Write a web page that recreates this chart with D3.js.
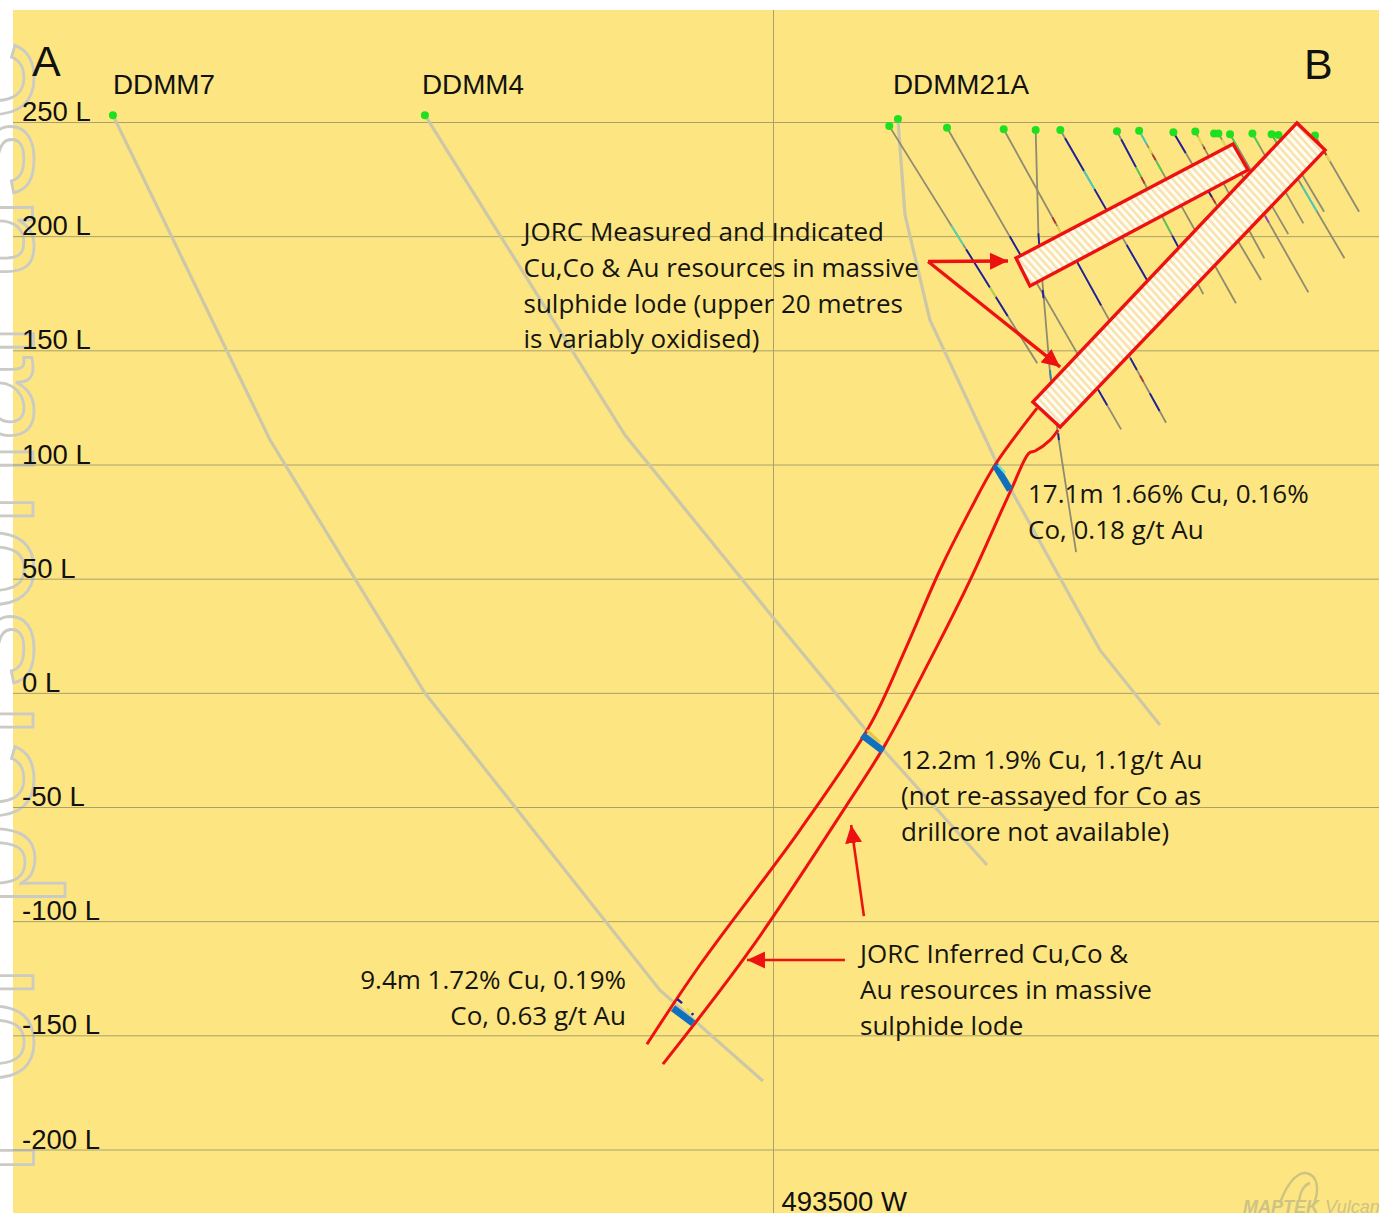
<!DOCTYPE html>
<html>
<script src='https://d3js.org/d3.v7.min.js'></script>
<style>
 html, body {margin:0; padding:0; background:white;}
 svg {display:block;}
 .note {font-family:'Open Sans', sans-serif; font-size:26px; fill:#151510;}
 .level text, .easting text {font-family:'Liberation Sans', sans-serif; font-size:27.5px; fill:#111;}
 .level line, .easting line {stroke:#A9A06C; stroke-width:1;}
 .level path, .easting path {display:none;}
</style>
<body>
<svg width=1383 height=1214></svg>
<script>

// section levels (RL, metres), easting is metres from 493500 W
const levels = [250,200,150,100,50,0,-50,-100,-150,-200];
const levelLabels = ['250 L','200 L','150 L','100 L','50 L','0 L','-50 L','-100 L','-150 L','-200 L'];
const eastingTicks = [0];
const eastingLabels = ['493500 W'];

// long holes, [easting, RL]
const ddmm7 = [[-289,253],[-220.2,110.7],[-152.4,-0.1],[-49.5,-130.2],[-4.4,-170]];
const ddmm4 = [[-152.4,253],[-64.8,112.9],[0.9,31.9],[42.5,-18.5],[93.7,-75.4]];
const ddmm21a = [[54.7,251.3],[57.8,209.3],[68.7,163.3],[99.4,97.6],[143.2,18.7],[169.4,-14.1]];

// short holes near surface
const shortHoles = [
 [[50.9,248.2],[115.7,144.3]],
 [[76.2,247.5],[152.4,115.4]],
 [[101.0,246.8],[172.1,118.3]],
 [[115.0,246.5],[116.2,201.2],[118.4,174.9],[121.3,139.9],[124.9,112.2],[132.7,61.6]],
 [[125.8,246.5],[167.3,174.6]],
 [[150.6,245.9],[188.4,174.6]],
 [[160.3,246.2],[202.7,170.6]],
 [[175.3,245.5],[213.7,180.8]],
 [[184.9,245.8],[215.1,190.3]],
 [[195.0,245.0],[234.4,175.4]],
 [[200.1,244.6],[225.6,200.9]],
 [[209.9,245.0],[232.2,205.6]],
 [[218.3,244.6],[250.2,190.3]],
 [[221.3,244.3],[241.3,210.7]],
 [[237.3,244.1],[256.6,210.7]]
];

// assays: hole index, from, to (fraction down the hole), colour
const assays = [
 [0,0.42,0.50,'#4fd8b0'],[0,0.52,0.68,'#20209a'],[0,0.68,0.72,'#b5d83a'],[0,0.72,0.80,'#20209a'],
 [1,0.36,0.45,'#20209a'],[1,0.80,0.86,'#50d050'],[1,0.86,0.92,'#20209a'],
 [2,0.30,0.32,'#c03030'],[2,0.33,0.36,'#e8e040'],[2,0.45,0.60,'#20209a'],[2,0.78,0.82,'#20209a'],[2,0.84,0.86,'#c03030'],[2,0.90,0.96,'#20209a'],
 [4,0.05,0.25,'#20209a'],[4,0.25,0.36,'#40d0c0'],[4,0.36,0.50,'#20209a'],[4,0.70,0.92,'#20209a'],
 [5,0.05,0.22,'#20209a'],[5,0.22,0.28,'#50d050'],[5,0.28,0.32,'#c03030'],[5,0.33,0.38,'#50d050'],[5,0.55,0.62,'#50d050'],[5,0.64,0.72,'#20209a'],
 [6,0.02,0.08,'#40d0c0'],[6,0.10,0.13,'#e8e040'],[6,0.14,0.17,'#c03030'],[6,0.18,0.24,'#50d050'],
 [7,0.02,0.14,'#20209a'],[7,0.36,0.44,'#20209a'],[7,0.44,0.48,'#c03030'],
 [8,0.04,0.10,'#e8e040'],[8,0.12,0.14,'#c03030'],
 [9,0.04,0.10,'#e8e040'],[9,0.30,0.38,'#50d050'],[9,0.42,0.50,'#40d0c0'],[9,0.52,0.56,'#a040c0'],
 [10,0.04,0.14,'#50d050'],[10,0.46,0.60,'#20209a'],
 [11,0.02,0.14,'#50d050'],
 [12,0.04,0.10,'#50d050'],[12,0.42,0.62,'#40d0c0'],
 [14,0.12,0.20,'#e8e040'],[14,0.22,0.26,'#c03030'],[14,0.26,0.34,'#e8e040']
];
// intervals on the one bent hole
const bentAssays = [
 [[116.2,201.2],[116.5,196.5],'#20209a'],
 [[118.1,176.4],[118.4,172.8],'#20209a'],
 [[121.3,141.4],[121.7,137],'#2a8a9a'],
 [[124.9,113.6],[125.2,110.7],'#20209a']
];

// collar with no trace showing
const extraCollars = [[193.1,245.0]];

// lode outline and JORC blocks
const lodeUpper = [[115.6,124.7],[97.2,99.8],[86.3,80.0],[73.1,53.8],[57.8,18.7],[42.5,-14.1],[11.8,-60.1],[-32.0,-119.2],[-55.2,-153.9]];
const lodeLower = [[124.8,115.1],[121.3,110.7],[114.7,105.9],[112.1,105.0],[104.6,89.7],[86.3,49.4],[68.7,14.3],[49.0,-22.9],[33.7,-47],[-10.1,-112.7],[-48.2,-162.6]];
const mainBlock = [[113.8,127.4],[125.7,116.4],[241.7,237.7],[229.4,249.6]];
const upperBlock = [[106.4,190.4],[112.5,178.2],[208.0,229.0],[201.4,240.4]];

// intercepts
const intercepts = [
 [[97.2,99.8],[103.8,88.8]],
 [[39.0,-18.5],[48.2,-25.5]],
 [[-43.8,-138.1],[-35,-144.7]]
];
const interceptAssays = [
 [[98.5,99.8],[101.6,96.3],'#7fe0c0'],
 [[41.2,-16.3],[46.8,-21.6],'#e8c830'],
 [[-42,-134.1],[-39.8,-135.9],'#20209a'],
 [[-37.7,-138.1],[-36.3,-139.9],'#e8e040'],
 [[-35.5,-140.3],[-35,-141.1],'#20209a']
];

// arrows from - to
const arrowsHeavy = [
 [[67.9,188.9],[102.9,189.1]],
 [[67.9,188.9],[125.7,142.7]]
];
const arrowsLight = [
 [[39.8,-97.8],[34.2,-57.9]],
 [[31.5,-117],[-11.4,-117]]
];

const note1 = ['JORC Measured and Indicated','Cu,Co & Au resources in massive','sulphide lode (upper 20 metres','is variably oxidised)'];
const note2 = ['17.1m 1.66% Cu, 0.16%','Co, 0.18 g/t Au'];
const note3 = ['12.2m 1.9% Cu, 1.1g/t Au','(not re-assayed for Co as','drillcore not available)'];
const note4 = ['JORC Inferred Cu,Co &','Au resources in massive','sulphide lode'];
const note5 = ['9.4m 1.72% Cu, 0.19%','Co, 0.63 g/t Au'];

const x = d3.scaleLinear().domain([0,100]).range([773,1001.4]);
const y = d3.scaleLinear().domain([250,-200]).range([122,1149.5]);
const svg = d3.select('svg');
const line = d3.line().x(d => x(d[0])).y(d => y(d[1]));
const smooth = d3.line().x(d => x(d[0])).y(d => y(d[1])).curve(d3.curveCatmullRom.alpha(0.5));

const defs = svg.append('defs');
const hatch = defs.append('pattern').attr('id','hatch').attr('patternUnits','userSpaceOnUse')
  .attr('width',5.6).attr('height',5.6).attr('patternTransform','rotate(-42)');
hatch.append('rect').attr('width',5.6).attr('height',5.6).attr('fill','#FFFDF4');
hatch.append('rect').attr('width',2.4).attr('height',5.6).attr('fill','#F9DFA8');
defs.append('marker').attr('id','head').attr('markerUnits','userSpaceOnUse')
  .attr('viewBox','0 0 18 18').attr('refX',18).attr('refY',9)
  .attr('markerWidth',18).attr('markerHeight',18).attr('orient','auto')
  .append('path').attr('d','M0,0.5L18,9L0,17.5Z').attr('fill','#EE1111');

// panel
svg.append('rect').attr('x',13).attr('y',10).attr('width',1366).attr('height',1203).attr('fill','#FDE681');

// watermark, cut off by the page edge
svg.append('text').text('For personal use')
  .attr('transform','translate(33,1177) rotate(-90)')
  .style('font-family',"'Liberation Sans', sans-serif").style('font-size','152px')
  .attr('fill','none').attr('stroke','#CBCBC6').attr('stroke-width',2.8);

// grid and level labels
svg.append('g').attr('class','level').attr('transform','translate(13,0)')
  .call(d3.axisRight(y).tickValues(levels).tickSize(1366).tickFormat((d,i) => levelLabels[i]))
  .selectAll('text').attr('x',9).attr('dy',-1.5).attr('dominant-baseline','auto').attr('text-anchor','start');

svg.append('g').attr('class','easting').attr('transform','translate(0,10)')
  .call(d3.axisBottom(x).tickValues(eastingTicks).tickSize(1203).tickFormat((d,i) => eastingLabels[i]))
  .selectAll('text').attr('x',8).attr('y',1201).attr('dy',0).attr('text-anchor','start');

// long holes
svg.selectAll('.long').data([ddmm7,ddmm4,ddmm21a]).enter().append('path').attr('class','long')
  .attr('d',line).attr('fill','none').attr('stroke','#CCC7A6').attr('stroke-width',3.2);

// short holes and assay colours
svg.selectAll('.short').data(shortHoles).enter().append('path').attr('class','short')
  .attr('d',line).attr('fill','none').attr('stroke','#8E8B72').attr('stroke-width',1.8);
svg.selectAll('.assay').data(assays).enter().append('line').attr('class','assay')
  .attr('x1',d => x(d3.interpolateNumber(shortHoles[d[0]][0][0],shortHoles[d[0]][1][0])(d[1])))
  .attr('y1',d => y(d3.interpolateNumber(shortHoles[d[0]][0][1],shortHoles[d[0]][1][1])(d[1])))
  .attr('x2',d => x(d3.interpolateNumber(shortHoles[d[0]][0][0],shortHoles[d[0]][1][0])(d[2])))
  .attr('y2',d => y(d3.interpolateNumber(shortHoles[d[0]][0][1],shortHoles[d[0]][1][1])(d[2])))
  .attr('stroke',d => d[3]).attr('stroke-width',1.8);
svg.selectAll('.bent').data(bentAssays).enter().append('line').attr('class','bent')
  .attr('x1',d => x(d[0][0])).attr('y1',d => y(d[0][1]))
  .attr('x2',d => x(d[1][0])).attr('y2',d => y(d[1][1]))
  .attr('stroke',d => d[2]).attr('stroke-width',1.8);

// collars
const collars = [ddmm7,ddmm4,ddmm21a].concat(shortHoles).map(h => h[0]).concat(extraCollars);
svg.selectAll('.collar').data(collars).enter().append('circle').attr('class','collar')
  .attr('cx',d => x(d[0])).attr('cy',d => y(d[1])).attr('r',4).attr('fill','#1FE01F');

// lode
svg.selectAll('.lode').data([lodeUpper,lodeLower]).enter().append('path').attr('class','lode')
  .attr('d',smooth).attr('fill','none').attr('stroke','#EE1111').attr('stroke-width',3);
svg.selectAll('.block').data([upperBlock,mainBlock]).enter().append('path').attr('class','block')
  .attr('d',d => line(d)+'Z').attr('fill','url(#hatch)').attr('stroke','#EE1111').attr('stroke-width',3.4);

// intercepts
svg.selectAll('.icept').data(intercepts).enter().append('line').attr('class','icept')
  .attr('x1',d => x(d[0][0])).attr('y1',d => y(d[0][1]))
  .attr('x2',d => x(d[1][0])).attr('y2',d => y(d[1][1]))
  .attr('stroke','#0F70BE').attr('stroke-width',7);
svg.selectAll('.iassay').data(interceptAssays).enter().append('line').attr('class','iassay')
  .attr('x1',d => x(d[0][0])).attr('y1',d => y(d[0][1]))
  .attr('x2',d => x(d[1][0])).attr('y2',d => y(d[1][1]))
  .attr('stroke',d => d[2]).attr('stroke-width',2.5);

// arrows
function arrows(data, w) {
 svg.selectAll(null).data(data).enter().append('line')
  .attr('x1',d => x(d[0][0])).attr('y1',d => y(d[0][1]))
  .attr('x2',d => x(d[1][0])).attr('y2',d => y(d[1][1]))
  .attr('stroke','#EE1111').attr('stroke-width',w).attr('marker-end','url(#head)');
}
arrows(arrowsHeavy,3.4);
arrows(arrowsLight,2.6);

// text
function note(lines, px, py, anchor) {
 svg.append('text').attr('class','note').attr('text-anchor',anchor || 'start')
  .selectAll('tspan').data(lines).enter().append('tspan')
  .attr('x',px).attr('y',(d,i) => py + i*35.8).text(d => d);
}
note(note1,523.5,241);
note(note2,1028,503);
note(note3,901,769);
note(note4,860,963);
note(note5,626,989,'end');

function tag(t, px, py, size) {
 svg.append('text').text(t).attr('x',px).attr('y',py)
  .style('font-family',"'Liberation Sans', sans-serif").style('font-size',size+'px').attr('fill','#111');
}
tag('A',32,76,43);
tag('B',1304,79,43);
tag('DDMM7',113,94,27.8);
tag('DDMM4',422,94,27.8);
tag('DDMM21A',893,94,27.8);

// vendor mark
const mark = svg.append('g').attr('fill','#CDC384');
mark.append('text').text('MAPTEK').attr('x',1243).attr('y',1213)
  .style('font-family',"'Liberation Sans', sans-serif").style('font-size','18px').style('font-weight','bold').style('font-style','italic');
mark.append('text').text('Vulcan').attr('x',1325).attr('y',1213)
  .style('font-family',"'Liberation Sans', sans-serif").style('font-size','18px').style('font-style','italic');
mark.append('path').attr('d','M1280,1203C1286,1186 1296,1172 1306,1173C1318,1175 1320,1190 1313,1206M1299,1202C1300,1192 1304,1185 1310,1183')
  .attr('fill','none').attr('stroke','#CDC384').attr('stroke-width',2.4);

</script>
</body>
</html>
